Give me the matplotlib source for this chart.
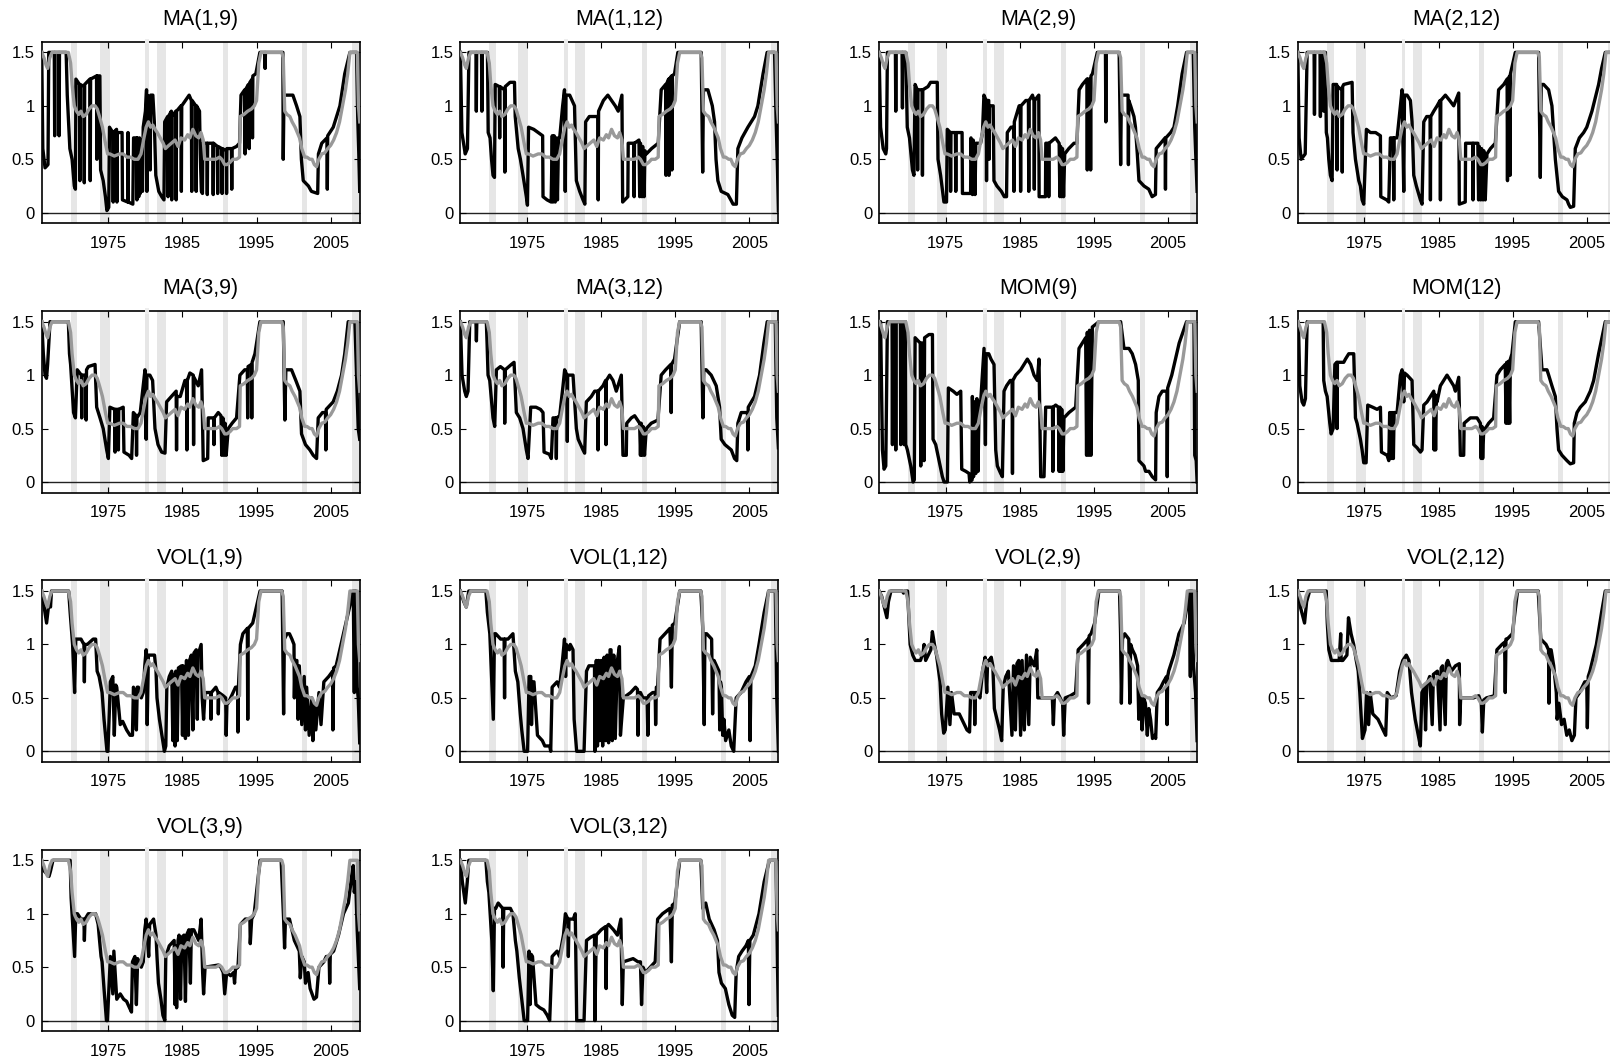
import matplotlib
matplotlib.use("Agg")
import matplotlib.pyplot as plt
from matplotlib.patches import Rectangle

plt.rcParams["font.family"] = ["Liberation Sans", "DejaVu Sans"]

# NBER recessions (start, end) in decimal years
recessions = [(1969.92, 1970.83), (1973.83, 1975.17), (1980.0, 1980.5),
              (1981.5, 1982.83), (1990.5, 1991.17), (2001.17, 2001.83),
              (2007.92, 2009.5)]

# grey benchmark line, same in every panel
gray = [(1966.00, 1.50), (1966.30, 1.45), (1966.60, 1.38), (1966.80, 1.35), (1967.10, 1.45), (1967.40, 1.50),
        (1969.60, 1.50), (1969.90, 1.40), (1970.10, 1.20), (1970.40, 1.00), (1970.70, 0.95), (1971.00, 0.92),
        (1971.30, 0.95), (1971.60, 0.90), (1972.00, 0.92), (1972.40, 0.97), (1972.80, 1.00), (1973.20, 1.00),
        (1973.50, 0.97), (1973.80, 0.90), (1974.20, 0.80), (1974.60, 0.65), (1974.90, 0.55), (1975.20, 0.55),
        (1975.80, 0.53), (1976.50, 0.55), (1977.00, 0.55), (1977.50, 0.52), (1978.00, 0.52), (1978.50, 0.50),
        (1979.00, 0.50), (1979.40, 0.55), (1979.80, 0.70), (1980.10, 0.80), (1980.40, 0.85), (1980.70, 0.80),
        (1981.00, 0.82), (1981.30, 0.78), (1981.60, 0.75), (1982.00, 0.70), (1982.40, 0.65), (1982.70, 0.60),
        (1983.00, 0.62), (1983.50, 0.65), (1984.00, 0.68), (1984.40, 0.62), (1984.80, 0.70), (1985.30, 0.68),
        (1985.70, 0.73), (1986.00, 0.70), (1986.40, 0.78), (1986.80, 0.72), (1987.20, 0.70), (1987.50, 0.75),
        (1987.80, 0.68), (1988.00, 0.50), (1988.50, 0.50), (1989.00, 0.50), (1989.50, 0.50), (1990.00, 0.52),
        (1990.30, 0.50), (1990.70, 0.45), (1991.00, 0.45), (1991.40, 0.47), (1991.80, 0.50), (1992.30, 0.50),
        (1992.70, 0.52), (1992.80, 0.90), (1993.30, 0.92), (1993.80, 0.95), (1994.30, 0.97), (1994.70, 1.00),
        (1995.00, 1.05), (1995.30, 1.40), (1995.60, 1.50), (1998.40, 1.50), (1998.60, 1.45), (1998.80, 0.95),
        (1999.10, 0.92), (1999.50, 0.90), (1999.80, 0.85), (2000.20, 0.80), (2000.50, 0.75), (2000.80, 0.70),
        (2001.10, 0.60), (2001.50, 0.52), (2001.80, 0.52), (2002.20, 0.50), (2002.50, 0.50), (2002.80, 0.45),
        (2003.10, 0.43), (2003.40, 0.50), (2003.80, 0.55), (2004.20, 0.56), (2004.60, 0.60), (2005.00, 0.63),
        (2005.40, 0.68), (2005.80, 0.75), (2006.20, 0.85), (2006.60, 1.00), (2007.00, 1.15), (2007.30, 1.30),
        (2007.60, 1.50), (2008.60, 1.50), (2008.75, 1.00), (2008.92, 0.85)]

ma_1_9 = [(1966.00, 1.50), (1966.15, 0.60), (1966.45, 0.42), (1966.85, 0.45), (1966.95, 1.50),
          (1967.70, 1.50), (1967.75, 0.72), (1967.80, 1.50), (1968.30, 1.50), (1968.35, 0.72), (1968.40, 1.50),
          (1969.30, 1.50), (1969.45, 1.10), (1969.80, 0.60), (1970.10, 0.50), (1970.40, 0.25), (1970.55, 0.22),
          (1970.62, 1.25), (1971.10, 1.20), (1971.15, 0.30), (1971.20, 1.20), (1971.70, 1.18), (1971.75, 0.28),
          (1971.80, 1.20), (1972.50, 1.25), (1972.55, 0.30), (1972.60, 1.25), (1973.40, 1.28), (1973.45, 0.50),
          (1973.50, 1.28), (1973.85, 1.28), (1973.95, 0.40), (1974.30, 0.30), (1974.60, 0.15), (1974.80, 0.02),
          (1975.05, 0.05), (1975.15, 0.80), (1975.60, 0.75), (1975.65, 0.10), (1975.70, 0.75), (1976.10, 0.78),
          (1976.15, 0.10), (1976.20, 0.75), (1976.85, 0.75), (1976.90, 0.12), (1977.60, 0.10), (1977.65, 0.75),
          (1977.70, 0.10), (1978.30, 0.08), (1978.40, 0.70), (1978.80, 0.70), (1978.85, 0.12), (1978.90, 0.70),
          (1979.10, 0.15), (1979.20, 0.70), (1979.30, 0.18), (1979.50, 0.65), (1979.60, 0.20), (1979.70, 0.80),
          (1980.00, 0.95), (1980.15, 1.15), (1980.20, 0.20), (1980.25, 1.10), (1980.60, 1.05), (1980.65, 0.40),
          (1980.70, 1.10), (1981.00, 1.10), (1981.20, 0.85), (1981.40, 0.35), (1981.80, 0.20), (1982.20, 0.15),
          (1982.50, 0.12), (1982.60, 0.85), (1983.00, 0.90), (1983.05, 0.15), (1983.10, 0.90), (1983.50, 0.95),
          (1983.55, 0.12), (1983.60, 0.90), (1984.10, 0.95), (1984.15, 0.12), (1984.20, 0.95), (1984.80, 1.00),
          (1984.85, 0.20), (1984.90, 1.00), (1985.40, 1.05), (1985.90, 1.10), (1986.20, 1.05), (1986.25, 0.20),
          (1986.30, 1.05), (1986.80, 1.00), (1986.85, 0.20), (1986.90, 1.00), (1987.30, 0.95), (1987.40, 0.55),
          (1987.55, 0.20), (1987.70, 0.18), (1987.75, 0.65), (1988.30, 0.65), (1988.35, 0.17), (1988.40, 0.65),
          (1989.10, 0.65), (1989.15, 0.17), (1989.20, 0.65), (1989.70, 0.62), (1989.75, 0.18), (1989.80, 0.62),
          (1990.30, 0.60), (1990.35, 0.18), (1990.40, 0.60), (1990.90, 0.58), (1990.95, 0.18), (1991.00, 0.60),
          (1991.60, 0.60), (1991.65, 0.22), (1991.70, 0.60), (1992.30, 0.62), (1992.70, 0.65), (1992.90, 1.10),
          (1993.40, 1.15), (1993.45, 0.55), (1993.50, 1.15), (1993.90, 1.20), (1994.00, 0.60), (1994.10, 1.22),
          (1994.40, 1.25), (1994.45, 0.70), (1994.50, 1.28), (1994.90, 1.30), (1995.45, 1.50), (1996.10, 1.50),
          (1996.15, 1.35), (1996.20, 1.50), (1998.55, 1.50), (1998.60, 0.50), (1998.70, 1.10), (1999.90, 1.10),
          (2000.40, 1.00), (2000.85, 0.90), (2001.05, 0.50), (2001.30, 0.30), (2002.00, 0.25), (2002.40, 0.20),
          (2003.25, 0.18), (2003.35, 0.55), (2003.80, 0.65), (2004.50, 0.70), (2004.55, 0.22), (2004.60, 0.72),
          (2005.35, 0.80), (2006.25, 1.00), (2006.90, 1.30), (2007.60, 1.50), (2008.50, 1.50), (2008.65, 0.90),
          (2008.80, 0.55), (2008.92, 0.20)]

ma_1_12 = [(1966.00, 1.50), (1966.20, 0.75), (1966.65, 0.55), (1966.95, 0.60), (1967.15, 1.50),
           (1968.10, 1.50), (1968.15, 0.95), (1968.20, 1.50), (1968.85, 1.50), (1968.90, 0.95), (1968.95, 1.50),
           (1969.65, 1.50), (1969.75, 0.75), (1970.00, 0.70), (1970.20, 0.50), (1970.40, 0.35), (1970.60, 0.33),
           (1970.70, 1.20), (1971.25, 1.18), (1971.30, 0.70), (1971.35, 1.18), (1971.95, 1.15), (1972.00, 0.38),
           (1972.05, 1.18), (1972.70, 1.22), (1973.30, 1.22), (1973.40, 0.90), (1973.80, 0.60), (1974.10, 0.50),
           (1974.45, 0.35), (1974.90, 0.15), (1975.05, 0.07), (1975.20, 0.80), (1975.90, 0.78), (1976.50, 0.75),
           (1977.10, 0.72), (1977.15, 0.15), (1977.70, 0.12), (1978.25, 0.10), (1978.40, 0.72), (1978.50, 0.10),
           (1978.65, 0.72), (1978.80, 0.10), (1978.95, 0.70), (1979.10, 0.12), (1979.25, 0.70), (1979.40, 0.70),
           (1979.80, 1.00), (1980.05, 1.15), (1980.15, 0.20), (1980.25, 1.10), (1980.75, 1.10), (1981.40, 1.00),
           (1981.65, 0.30), (1982.10, 0.20), (1982.55, 0.12), (1982.80, 0.08), (1982.90, 0.85), (1983.40, 0.90),
           (1984.20, 0.90), (1984.55, 0.90), (1984.60, 0.12), (1984.65, 0.95), (1985.30, 1.05), (1985.90, 1.10),
           (1986.40, 1.05), (1986.90, 1.00), (1987.30, 0.95), (1987.80, 1.10), (1987.90, 0.10), (1988.60, 0.15),
           (1988.65, 0.65), (1989.40, 0.65), (1989.45, 0.15), (1989.50, 0.65), (1990.10, 0.68), (1990.20, 0.15),
           (1990.30, 0.65), (1990.50, 0.15), (1990.60, 0.62), (1990.80, 0.15), (1990.90, 0.58), (1991.10, 0.55),
           (1991.80, 0.60), (1992.70, 0.65), (1993.10, 1.15), (1993.70, 1.20), (1993.75, 0.35), (1993.80, 1.20),
           (1994.10, 1.25), (1994.15, 0.35), (1994.20, 1.25), (1994.50, 1.28), (1994.55, 0.40), (1994.60, 1.28),
           (1994.90, 1.30), (1995.35, 1.50), (1998.50, 1.50), (1998.70, 0.38), (1998.80, 1.15), (1999.40, 1.15),
           (1999.60, 1.10), (2000.00, 1.00), (2000.30, 0.85), (2000.50, 0.50), (2000.75, 0.30), (2001.20, 0.20),
           (2002.10, 0.17), (2002.50, 0.12), (2002.80, 0.08), (2003.25, 0.08), (2003.45, 0.60), (2004.00, 0.70),
           (2004.40, 0.75), (2004.80, 0.80), (2005.70, 0.90), (2006.15, 1.00), (2006.85, 1.30), (2007.40, 1.50),
           (2008.40, 1.50), (2008.60, 0.90), (2008.80, 0.40), (2008.92, 0.02)]

ma_2_9 = [(1966.00, 1.50), (1966.20, 0.80), (1966.55, 0.60), (1966.90, 0.55), (1967.00, 0.60), (1967.12, 1.50),
          (1968.20, 1.50), (1968.25, 0.95), (1968.30, 1.50), (1969.10, 1.50), (1969.15, 0.98), (1969.20, 1.50),
          (1969.60, 1.50), (1969.80, 0.80), (1970.10, 0.70), (1970.50, 0.40), (1970.70, 0.35), (1970.86, 1.20),
          (1971.15, 1.15), (1971.20, 0.40), (1971.25, 1.15), (1971.80, 1.15), (1971.85, 0.35), (1971.90, 1.15),
          (1972.60, 1.18), (1972.95, 1.22), (1973.85, 1.22), (1973.95, 0.50), (1974.30, 0.35), (1974.75, 0.10),
          (1975.10, 0.10), (1975.20, 0.78), (1975.60, 0.75), (1975.65, 0.20), (1975.70, 0.75), (1976.30, 0.75),
          (1976.35, 0.20), (1976.40, 0.75), (1977.20, 0.75), (1977.25, 0.18), (1978.35, 0.18), (1978.40, 0.70),
          (1978.60, 0.17), (1978.70, 0.68), (1978.95, 0.17), (1979.05, 0.65), (1979.70, 0.65), (1979.95, 0.75),
          (1980.15, 1.10), (1980.45, 1.05), (1980.50, 0.30), (1980.55, 1.05), (1980.80, 1.05), (1980.85, 0.50),
          (1980.90, 1.00), (1981.40, 1.00), (1981.50, 0.30), (1981.90, 0.25), (1982.50, 0.20), (1982.90, 0.15),
          (1983.20, 0.15), (1983.30, 0.75), (1983.80, 0.80), (1984.15, 0.80), (1984.20, 0.20), (1984.25, 0.85),
          (1984.90, 1.00), (1985.05, 1.00), (1985.10, 0.20), (1985.15, 1.00), (1985.80, 1.05), (1986.15, 1.05),
          (1986.20, 0.20), (1986.25, 1.05), (1986.70, 1.10), (1986.90, 1.05), (1986.95, 0.22), (1987.00, 1.05),
          (1987.55, 1.10), (1987.60, 0.15), (1988.45, 0.15), (1988.50, 0.65), (1988.85, 0.65), (1988.90, 0.15),
          (1988.95, 0.65), (1989.80, 0.70), (1990.30, 0.65), (1990.40, 0.15), (1990.50, 0.62), (1990.65, 0.15),
          (1990.75, 0.60), (1990.90, 0.15), (1991.05, 0.55), (1991.60, 0.60), (1992.30, 0.65), (1992.70, 0.65),
          (1993.00, 1.15), (1993.45, 1.20), (1994.05, 1.25), (1994.10, 0.40), (1994.15, 1.25), (1994.50, 1.25),
          (1994.55, 0.40), (1994.60, 1.28), (1994.80, 1.30), (1995.45, 1.50), (1996.55, 1.50), (1996.60, 0.85),
          (1996.65, 1.50), (1998.40, 1.50), (1998.60, 0.45), (1998.70, 1.10), (1999.60, 1.10), (1999.65, 0.45),
          (1999.70, 1.05), (1999.95, 1.00), (2000.40, 0.90), (2000.60, 0.80), (2000.85, 0.55), (2001.07, 0.30),
          (2001.75, 0.25), (2002.40, 0.22), (2002.85, 0.15), (2003.30, 0.17), (2003.40, 0.60), (2004.00, 0.65),
          (2004.60, 0.70), (2004.65, 0.22), (2004.70, 0.70), (2005.35, 0.75), (2005.80, 0.80), (2006.30, 1.00),
          (2006.90, 1.30), (2007.50, 1.50), (2008.40, 1.50), (2008.60, 0.80), (2008.92, 0.20)]

ma_2_12 = [(1966.00, 1.50), (1966.18, 0.70), (1966.45, 0.50), (1967.00, 0.55), (1967.26, 1.50),
           (1968.20, 1.50), (1968.25, 0.92), (1968.30, 1.50), (1969.00, 1.50), (1969.05, 0.90), (1969.10, 1.50),
           (1969.45, 1.50), (1969.50, 0.95), (1969.55, 1.50), (1969.73, 1.50), (1969.85, 0.75), (1970.00, 0.70),
           (1970.18, 0.50), (1970.40, 0.35), (1970.63, 0.30), (1970.77, 1.20), (1971.25, 1.20), (1971.30, 0.40),
           (1971.35, 1.18), (1971.95, 1.15), (1972.00, 0.38), (1972.05, 1.18), (1972.20, 1.20), (1973.33, 1.22),
           (1973.45, 0.75), (1973.78, 0.50), (1974.23, 0.30), (1974.45, 0.25), (1974.68, 0.12), (1974.90, 0.08),
           (1975.26, 0.78), (1975.80, 0.75), (1976.50, 0.75), (1977.15, 0.72), (1977.20, 0.15), (1978.00, 0.12),
           (1978.28, 0.10), (1978.50, 0.70), (1978.90, 0.70), (1978.95, 0.12), (1979.00, 0.70), (1979.40, 0.70),
           (1979.85, 1.00), (1980.07, 1.15), (1980.30, 0.20), (1980.40, 1.10), (1980.75, 1.10), (1981.20, 1.05),
           (1981.42, 0.85), (1981.65, 0.35), (1982.00, 0.25), (1982.55, 0.12), (1982.77, 0.08), (1983.00, 0.85),
           (1983.40, 0.90), (1983.85, 0.90), (1983.90, 0.12), (1983.95, 0.90), (1984.35, 0.95), (1984.80, 1.00),
           (1985.20, 1.05), (1985.25, 0.12), (1985.30, 1.05), (1985.92, 1.10), (1986.50, 1.05), (1987.04, 1.00),
           (1987.72, 1.12), (1987.80, 0.08), (1988.60, 0.10), (1988.65, 0.65), (1989.60, 0.65), (1989.65, 0.12),
           (1989.70, 0.65), (1990.30, 0.65), (1990.40, 0.12), (1990.50, 0.62), (1990.70, 0.12), (1990.80, 0.60),
           (1991.00, 0.12), (1991.10, 0.58), (1991.30, 0.12), (1991.53, 0.55), (1992.00, 0.60), (1992.66, 0.65),
           (1993.10, 1.15), (1993.80, 1.20), (1994.25, 1.25), (1994.30, 0.30), (1994.35, 1.25), (1994.60, 1.28),
           (1994.65, 0.35), (1994.70, 1.30), (1995.36, 1.50), (1998.50, 1.50), (1998.73, 0.33), (1998.85, 1.20),
           (1999.18, 1.20), (1999.85, 1.15), (2000.30, 1.00), (2000.76, 0.50), (2001.20, 0.20), (2001.70, 0.15),
           (2002.33, 0.12), (2002.55, 0.08), (2002.78, 0.05), (2003.23, 0.06), (2003.45, 0.60), (2004.00, 0.70),
           (2004.58, 0.75), (2005.00, 0.80), (2005.70, 0.95), (2006.60, 1.20), (2007.00, 1.35), (2007.50, 1.50),
           (2008.40, 1.50), (2008.60, 0.60), (2008.92, 0.30)]

ma_3_9 = [(1966.00, 1.50), (1966.22, 1.20), (1966.45, 1.00), (1966.65, 0.97), (1966.80, 1.10), (1967.12, 1.50),
          (1969.60, 1.50), (1969.75, 1.20), (1969.90, 1.10), (1970.30, 0.65), (1970.55, 0.60), (1970.80, 1.05),
          (1971.35, 1.00), (1971.40, 0.60), (1971.45, 1.00), (1971.95, 1.00), (1972.00, 0.58), (1972.05, 1.05),
          (1972.30, 1.08), (1973.20, 1.10), (1973.42, 0.70), (1973.87, 0.60), (1974.30, 0.50), (1974.77, 0.30),
          (1975.00, 0.22), (1975.20, 0.70), (1975.85, 0.68), (1975.90, 0.28), (1975.95, 0.68), (1976.30, 0.68),
          (1976.35, 0.30), (1976.40, 0.68), (1977.00, 0.70), (1977.10, 0.28), (1977.80, 0.25), (1978.14, 0.22),
          (1978.37, 0.65), (1978.75, 0.62), (1978.80, 0.25), (1978.85, 0.60), (1979.30, 0.65), (1979.70, 0.90),
          (1979.94, 1.05), (1980.10, 0.40), (1980.20, 1.00), (1980.60, 1.00), (1980.97, 0.95), (1981.29, 0.50),
          (1981.70, 0.35), (1982.19, 0.28), (1982.64, 0.27), (1982.86, 0.75), (1983.50, 0.80), (1984.15, 0.85),
          (1984.20, 0.30), (1984.25, 0.80), (1984.70, 0.80), (1985.33, 0.95), (1985.55, 0.95), (1985.60, 0.30),
          (1985.65, 0.95), (1986.00, 1.02), (1986.45, 1.00), (1986.50, 0.35), (1986.55, 0.98), (1987.13, 0.90),
          (1987.58, 1.05), (1987.80, 0.20), (1988.40, 0.22), (1988.48, 0.60), (1989.20, 0.60), (1989.25, 0.35),
          (1989.30, 0.60), (1989.83, 0.65), (1990.20, 0.62), (1990.30, 0.25), (1990.45, 0.60), (1990.60, 0.25),
          (1990.75, 0.55), (1990.90, 0.25), (1991.18, 0.50), (1991.70, 0.55), (1992.30, 0.60), (1992.75, 1.00),
          (1993.40, 1.05), (1993.75, 1.05), (1993.80, 0.60), (1993.85, 1.08), (1994.30, 1.10), (1994.35, 0.60),
          (1994.40, 1.12), (1994.78, 1.20), (1995.45, 1.50), (1998.60, 1.50), (1998.82, 0.58), (1998.95, 1.05),
          (1999.72, 1.05), (2000.30, 0.95), (2000.85, 0.85), (2001.07, 0.45), (2001.60, 0.35), (2002.20, 0.30),
          (2002.65, 0.25), (2003.10, 0.22), (2003.32, 0.60), (2003.90, 0.65), (2004.30, 0.65), (2004.35, 0.30),
          (2004.40, 0.68), (2004.67, 0.70), (2005.34, 0.75), (2005.90, 0.85), (2006.47, 1.00), (2006.90, 1.20),
          (2007.37, 1.50), (2008.27, 1.50), (2008.72, 0.50), (2008.92, 0.40)]

ma_3_12 = [(1966.00, 1.50), (1966.22, 1.00), (1966.58, 0.85), (1966.80, 0.80), (1967.03, 0.85), (1967.26, 1.50),
           (1968.10, 1.50), (1968.16, 1.32), (1968.22, 1.50), (1969.50, 1.50), (1969.60, 1.30), (1969.73, 1.00),
           (1969.96, 0.95), (1970.40, 0.60), (1970.63, 0.52), (1970.86, 1.05), (1971.40, 1.08), (1971.95, 1.05),
           (1971.98, 0.55), (1972.05, 1.05), (1972.88, 1.10), (1973.24, 1.12), (1973.55, 0.65), (1974.00, 0.60),
           (1974.45, 0.50), (1974.90, 0.30), (1975.13, 0.22), (1975.49, 0.70), (1976.20, 0.70), (1976.80, 0.68),
           (1977.15, 0.65), (1977.29, 0.28), (1978.00, 0.26), (1978.27, 0.22), (1978.50, 0.60), (1978.90, 0.60),
           (1978.95, 0.22), (1979.00, 0.60), (1979.40, 0.62), (1979.85, 0.90), (1980.07, 1.05), (1980.38, 1.00),
           (1980.43, 0.38), (1980.48, 1.00), (1981.20, 1.00), (1981.65, 0.50), (1981.90, 0.40), (1982.55, 0.30),
           (1982.77, 0.27), (1983.00, 0.75), (1983.67, 0.80), (1984.12, 0.85), (1984.52, 0.85), (1984.57, 0.30),
           (1984.62, 0.85), (1985.24, 0.90), (1985.60, 0.95), (1985.65, 0.35), (1985.70, 0.95), (1986.14, 1.00),
           (1986.60, 0.95), (1987.04, 0.85), (1987.72, 1.00), (1987.94, 0.25), (1988.39, 0.25), (1988.45, 0.55),
           (1989.07, 0.60), (1989.52, 0.62), (1990.19, 0.55), (1990.30, 0.25), (1990.40, 0.55), (1990.55, 0.25),
           (1990.65, 0.52), (1990.85, 0.25), (1991.09, 0.50), (1991.76, 0.55), (1992.66, 0.58), (1993.10, 1.00),
           (1993.70, 1.05), (1994.40, 1.10), (1994.45, 0.65), (1994.50, 1.10), (1994.90, 1.15), (1995.59, 1.50),
           (1998.50, 1.50), (1998.73, 0.60), (1998.85, 1.05), (1999.18, 1.05), (1999.85, 1.00), (2000.53, 0.90),
           (2000.98, 0.70), (2001.20, 0.40), (2001.70, 0.35), (2002.56, 0.30), (2003.00, 0.22), (2003.30, 0.20),
           (2003.45, 0.55), (2003.90, 0.65), (2004.75, 0.65), (2004.80, 0.30), (2004.85, 0.70), (2005.70, 0.80),
           (2006.38, 1.00), (2006.96, 1.30), (2007.41, 1.50), (2008.50, 1.50), (2008.70, 0.60), (2008.92, 0.32)]

mom_9 = [(1966.00, 1.50), (1966.20, 1.50), (1966.45, 0.30), (1966.67, 0.12), (1966.90, 0.15), (1967.12, 1.50),
         (1967.75, 1.50), (1967.80, 0.35), (1967.85, 1.50), (1968.20, 1.50), (1968.25, 0.30), (1968.30, 1.50),
         (1968.87, 1.50), (1968.92, 0.35), (1968.97, 1.50), (1969.32, 1.50), (1969.37, 0.35), (1969.42, 1.50),
         (1969.55, 1.50), (1969.60, 0.35), (1969.82, 0.30), (1970.27, 0.15), (1970.59, 0.00), (1970.75, 0.02),
         (1970.86, 1.35), (1971.55, 1.30), (1971.62, 0.15), (1971.69, 1.30), (1972.00, 1.30), (1972.07, 0.20),
         (1972.14, 1.35), (1972.74, 1.38), (1973.20, 1.38), (1973.28, 0.40), (1973.64, 0.35), (1974.09, 0.20),
         (1974.54, 0.05), (1974.77, 0.00), (1975.22, 0.00), (1975.35, 0.88), (1976.00, 0.85), (1976.50, 0.82),
         (1977.02, 0.85), (1977.15, 0.12), (1977.70, 0.10), (1978.14, 0.08), (1978.23, 0.00), (1978.55, 0.02),
         (1978.59, 0.80), (1978.75, 0.05), (1978.90, 0.75), (1979.05, 0.08), (1979.20, 0.78), (1979.35, 0.10),
         (1979.50, 0.75), (1979.71, 0.75), (1979.94, 1.00), (1980.16, 1.25), (1980.35, 0.35), (1980.45, 1.20),
         (1980.80, 1.20), (1981.10, 1.15), (1981.51, 1.10), (1981.74, 0.30), (1981.96, 0.15), (1982.41, 0.08),
         (1982.64, 0.05), (1982.86, 0.85), (1983.20, 0.90), (1983.70, 0.95), (1983.95, 0.95), (1984.00, 0.08),
         (1984.05, 0.95), (1984.44, 1.00), (1985.11, 1.05), (1985.56, 1.10), (1986.01, 1.15), (1986.46, 1.10),
         (1986.91, 1.00), (1987.36, 0.95), (1987.58, 1.15), (1987.81, 0.05), (1988.26, 0.05), (1988.48, 0.70),
         (1989.40, 0.70), (1989.45, 0.10), (1989.50, 0.70), (1989.83, 0.72), (1990.20, 0.70), (1990.30, 0.10),
         (1990.40, 0.70), (1990.55, 0.10), (1990.65, 0.68), (1990.80, 0.10), (1990.95, 0.60), (1991.63, 0.65),
         (1992.53, 0.70), (1992.98, 1.25), (1993.43, 1.30), (1993.88, 1.35), (1994.00, 0.25), (1994.10, 1.40),
         (1994.30, 0.25), (1994.40, 1.42), (1994.60, 0.25), (1994.78, 1.45), (1995.68, 1.50), (1998.60, 1.50),
         (1999.05, 1.25), (1999.72, 1.25), (2000.17, 1.20), (2000.62, 1.10), (2000.98, 0.95), (2001.07, 0.20),
         (2001.75, 0.15), (2001.97, 0.10), (2002.42, 0.10), (2002.87, 0.05), (2003.32, 0.02), (2003.40, 0.65),
         (2003.77, 0.80), (2004.22, 0.85), (2004.85, 0.85), (2004.89, 0.05), (2004.95, 0.88), (2005.50, 1.00),
         (2006.50, 1.30), (2007.50, 1.50), (2008.50, 1.50), (2008.60, 0.25), (2008.80, 0.20), (2008.92, 0.00)]

mom_12 = [(1966.00, 1.50), (1966.10, 1.45), (1966.27, 0.90), (1966.58, 0.75), (1966.80, 0.72), (1967.03, 0.78),
          (1967.26, 1.50), (1969.42, 1.50), (1969.50, 0.95), (1969.73, 0.85), (1969.96, 0.80), (1970.32, 0.55),
          (1970.50, 0.45), (1970.77, 0.50), (1971.00, 1.10), (1971.25, 1.12), (1971.30, 0.50), (1971.35, 1.12),
          (1972.20, 1.12), (1972.43, 1.15), (1972.88, 1.20), (1973.55, 1.20), (1973.69, 0.85), (1973.78, 0.60),
          (1974.00, 0.55), (1974.45, 0.40), (1974.68, 0.30), (1974.90, 0.18), (1975.22, 0.18), (1975.44, 0.72),
          (1976.10, 0.70), (1976.70, 0.68), (1977.15, 0.70), (1977.29, 0.28), (1978.05, 0.25), (1978.28, 0.20),
          (1978.40, 0.65), (1978.50, 0.22), (1978.60, 0.65), (1978.70, 0.22), (1978.80, 0.65), (1978.90, 0.22),
          (1979.00, 0.65), (1979.40, 0.65), (1979.85, 1.00), (1980.07, 1.05), (1980.30, 0.75), (1980.40, 1.02),
          (1980.75, 1.00), (1981.42, 0.95), (1981.65, 0.35), (1982.10, 0.32), (1982.55, 0.28), (1982.77, 0.30),
          (1983.00, 0.72), (1983.45, 0.75), (1983.90, 0.80), (1984.35, 0.85), (1984.40, 0.30), (1984.50, 0.82),
          (1984.60, 0.30), (1984.70, 0.80), (1984.80, 0.75), (1985.24, 0.90), (1985.69, 0.95), (1986.14, 1.00),
          (1986.59, 0.95), (1987.04, 0.90), (1987.27, 0.85), (1987.72, 0.98), (1987.94, 0.25), (1988.39, 0.25),
          (1988.45, 0.55), (1989.29, 0.60), (1990.19, 0.60), (1990.64, 0.55), (1990.75, 0.22), (1990.85, 0.52),
          (1990.95, 0.22), (1991.10, 0.50), (1991.31, 0.50), (1991.76, 0.55), (1992.43, 0.60), (1992.88, 1.00),
          (1993.33, 1.05), (1994.00, 1.10), (1994.10, 0.55), (1994.20, 1.12), (1994.35, 0.55), (1994.45, 1.13),
          (1994.60, 0.55), (1994.69, 1.15), (1994.91, 1.20), (1995.36, 1.50), (1998.50, 1.50), (1998.96, 1.05),
          (1999.63, 1.05), (1999.86, 1.00), (2000.30, 0.90), (2000.76, 0.80), (2000.98, 0.50), (2001.20, 0.30),
          (2001.66, 0.25), (2002.33, 0.20), (2002.78, 0.17), (2003.23, 0.18), (2003.32, 0.55), (2003.68, 0.65),
          (2004.13, 0.70), (2004.80, 0.75), (2005.48, 0.85), (2005.93, 0.95), (2006.60, 1.20), (2007.05, 1.35),
          (2007.50, 1.50), (2008.50, 1.50), (2008.92, 0.50)]

vol_1_9 = [(1966.00, 1.50), (1966.33, 1.35), (1966.66, 1.20), (1966.99, 1.40), (1967.19, 1.35), (1967.32, 1.50),
           (1969.64, 1.50), (1969.84, 1.30), (1970.17, 1.00), (1970.44, 0.55), (1970.60, 1.05), (1970.83, 1.05),
           (1971.30, 1.05), (1971.70, 1.00), (1971.76, 0.65), (1971.82, 1.00), (1972.16, 1.00), (1972.95, 1.05),
           (1973.28, 1.05), (1973.48, 0.75), (1973.75, 0.70), (1974.15, 0.55), (1974.41, 0.30), (1974.81, 0.00),
           (1974.94, 0.00), (1975.27, 0.65), (1975.60, 0.70), (1975.80, 0.15), (1976.00, 0.62), (1976.13, 0.60),
           (1976.60, 0.25), (1976.93, 0.28), (1977.46, 0.20), (1977.92, 0.15), (1978.25, 0.15), (1978.38, 0.60),
           (1978.58, 0.55), (1978.78, 0.20), (1978.90, 0.60), (1979.05, 0.60), (1979.44, 0.50), (1979.71, 0.55),
           (1979.91, 0.80), (1980.10, 0.95), (1980.24, 0.25), (1980.40, 0.90), (1980.57, 0.90), (1981.23, 0.90),
           (1981.43, 0.75), (1981.56, 0.50), (1981.89, 0.30), (1982.23, 0.15), (1982.56, 0.00), (1982.75, 0.05),
           (1982.89, 0.60), (1983.22, 0.70), (1983.55, 0.75), (1983.70, 0.10), (1983.80, 0.72), (1984.00, 0.05),
           (1984.10, 0.75), (1984.30, 0.10), (1984.45, 0.78), (1984.87, 0.80), (1985.00, 0.15), (1985.10, 0.80),
           (1985.40, 0.12), (1985.54, 0.85), (1985.80, 0.15), (1985.95, 0.85), (1986.20, 0.90), (1986.40, 0.20),
           (1986.55, 0.92), (1986.86, 0.95), (1987.00, 0.30), (1987.10, 0.90), (1987.52, 1.00), (1987.66, 0.50),
           (1987.85, 0.30), (1988.05, 0.55), (1988.80, 0.55), (1988.85, 0.30), (1988.90, 0.55), (1989.51, 0.60),
           (1989.80, 0.55), (1989.84, 0.35), (1989.90, 0.55), (1990.50, 0.52), (1990.83, 0.50), (1990.90, 0.15),
           (1991.00, 0.45), (1991.17, 0.45), (1991.83, 0.55), (1992.16, 0.60), (1992.45, 0.60), (1992.49, 0.18),
           (1992.55, 0.60), (1992.82, 1.00), (1993.15, 1.10), (1993.75, 1.15), (1993.81, 0.30), (1993.87, 1.15),
           (1994.48, 1.20), (1995.47, 1.50), (1998.45, 1.50), (1998.65, 0.35), (1998.75, 1.05), (1999.11, 1.10),
           (1999.44, 1.10), (1999.77, 1.05), (2000.05, 1.00), (2000.10, 0.50), (2000.20, 0.85), (2000.44, 0.85),
           (2000.60, 0.30), (2000.77, 0.80), (2001.10, 0.25), (2001.43, 0.70), (2001.60, 0.20), (2001.76, 0.60),
           (2002.10, 0.15), (2002.42, 0.50), (2002.60, 0.10), (2002.75, 0.45), (2003.00, 0.20), (2003.42, 0.55),
           (2003.70, 0.25), (2004.08, 0.65), (2004.74, 0.70), (2005.27, 0.75), (2005.30, 0.20), (2005.40, 0.78),
           (2005.74, 0.80), (2006.40, 1.00), (2007.06, 1.20), (2007.72, 1.40), (2008.05, 1.50), (2008.19, 0.55),
           (2008.30, 1.50), (2008.38, 1.50), (2008.58, 0.60), (2008.72, 0.50), (2008.92, 0.08)]

vol_1_12 = [(1966.00, 1.50), (1966.46, 1.40), (1966.79, 1.35), (1967.13, 1.50), (1969.44, 1.50), (1969.64, 1.30),
            (1969.97, 1.10), (1970.44, 0.30), (1970.60, 1.10), (1970.77, 1.10), (1971.43, 1.05), (1971.90, 1.05),
            (1971.96, 0.50), (1972.02, 1.05), (1972.42, 1.05), (1973.09, 1.10), (1973.42, 0.75), (1973.75, 0.65),
            (1974.08, 0.35), (1974.28, 0.20), (1974.61, 0.00), (1975.07, 0.00), (1975.27, 0.70), (1975.50, 0.70),
            (1975.60, 0.25), (1975.75, 0.65), (1975.93, 0.65), (1976.40, 0.15), (1977.06, 0.10), (1977.39, 0.05),
            (1978.05, 0.05), (1978.19, 0.00), (1978.38, 0.60), (1979.05, 0.65), (1979.38, 0.60), (1979.71, 0.80),
            (1980.05, 1.05), (1980.20, 0.70), (1980.30, 1.00), (1980.71, 0.95), (1980.83, 1.00), (1981.20, 0.95),
            (1981.35, 0.30), (1981.69, 0.00), (1982.69, 0.00), (1983.02, 0.75), (1983.35, 0.80), (1984.10, 0.80),
            (1984.15, 0.00), (1984.34, 0.85), (1984.50, 0.05), (1984.65, 0.85), (1984.80, 0.10), (1985.00, 0.85),
            (1985.20, 0.05), (1985.40, 0.88), (1985.60, 0.10), (1985.80, 0.90), (1986.00, 0.08), (1986.20, 0.95),
            (1986.33, 0.95), (1986.50, 0.10), (1986.70, 0.90), (1986.90, 0.12), (1987.19, 0.85), (1987.46, 0.98),
            (1987.60, 0.15), (1987.99, 0.50), (1988.98, 0.55), (1989.64, 0.60), (1989.90, 0.58), (1989.97, 0.15),
            (1990.05, 0.55), (1990.30, 0.55), (1990.64, 0.50), (1991.20, 0.50), (1991.30, 0.15), (1991.40, 0.52),
            (1991.96, 0.55), (1992.29, 0.55), (1992.35, 0.25), (1992.45, 0.60), (1992.62, 0.60), (1992.95, 1.05),
            (1993.62, 1.10), (1994.28, 1.15), (1994.48, 0.60), (1994.60, 1.18), (1994.94, 1.20), (1995.60, 1.50),
            (1998.45, 1.50), (1998.71, 1.15), (1998.91, 0.25), (1999.00, 1.10), (1999.24, 1.10), (1999.91, 1.05),
            (2000.04, 0.35), (2000.15, 0.85), (2000.24, 0.85), (2000.90, 0.75), (2001.00, 0.20), (2001.10, 0.65),
            (2001.23, 0.60), (2001.40, 0.15), (2001.56, 0.30), (2001.80, 0.10), (2002.23, 0.20), (2002.56, 0.05),
            (2002.89, 0.00), (2003.22, 0.50), (2003.88, 0.55), (2004.54, 0.65), (2005.00, 0.70), (2005.10, 0.10),
            (2005.21, 0.70), (2005.80, 0.80), (2006.30, 1.00), (2007.00, 1.30), (2007.60, 1.50), (2008.50, 1.50),
            (2008.70, 0.50), (2008.92, 0.00)]

vol_2_9 = [(1966.00, 1.50), (1966.35, 1.45), (1966.70, 1.35), (1967.05, 1.25), (1967.26, 1.40), (1967.60, 1.50),
           (1969.14, 1.50), (1969.30, 1.48), (1969.49, 1.50), (1969.84, 1.50), (1970.05, 1.20), (1970.19, 1.00),
           (1970.54, 0.90), (1970.88, 0.85), (1971.58, 0.85), (1971.93, 0.92), (1972.07, 1.00), (1972.28, 0.85),
           (1972.63, 0.90), (1972.98, 0.95), (1973.19, 1.12), (1973.47, 1.00), (1973.75, 0.90), (1974.03, 0.75),
           (1974.23, 0.65), (1974.44, 0.35), (1974.72, 0.17), (1974.93, 0.20), (1975.28, 0.60), (1975.56, 0.25),
           (1975.77, 0.55), (1976.12, 0.35), (1976.82, 0.35), (1977.17, 0.30), (1977.51, 0.25), (1977.86, 0.20),
           (1978.21, 0.18), (1978.35, 0.55), (1978.85, 0.55), (1978.91, 0.25), (1979.00, 0.55), (1979.26, 0.55),
           (1979.61, 0.50), (1979.96, 0.75), (1980.31, 0.88), (1980.52, 0.55), (1980.65, 0.85), (1980.86, 0.85),
           (1981.14, 0.88), (1981.35, 0.80), (1981.56, 0.40), (1981.91, 0.30), (1982.26, 0.20), (1982.54, 0.10),
           (1982.75, 0.60), (1983.10, 0.70), (1983.45, 0.75), (1983.93, 0.15), (1984.14, 0.80), (1984.40, 0.20),
           (1984.60, 0.82), (1984.84, 0.85), (1985.10, 0.15), (1985.30, 0.85), (1985.60, 0.20), (1985.89, 0.90),
           (1986.20, 0.25), (1986.40, 0.88), (1986.59, 0.85), (1986.94, 0.80), (1987.28, 0.95), (1987.42, 0.50),
           (1989.38, 0.50), (1989.52, 0.25), (1989.65, 0.50), (1990.08, 0.55), (1990.42, 0.50), (1990.77, 0.45),
           (1990.91, 0.15), (1991.12, 0.50), (1991.82, 0.52), (1992.52, 0.55), (1992.87, 0.95), (1993.56, 1.00),
           (1994.20, 1.05), (1994.26, 0.45), (1994.35, 1.08), (1994.61, 1.10), (1995.10, 1.20), (1995.66, 1.50),
           (1998.45, 1.50), (1998.59, 1.10), (1998.70, 0.45), (1998.85, 1.05), (1999.15, 1.10), (1999.70, 1.05),
           (1999.84, 0.45), (1999.95, 1.00), (2000.19, 0.95), (2000.54, 0.90), (2000.89, 0.80), (2001.05, 0.30),
           (2001.24, 0.55), (2001.50, 0.20), (2001.70, 0.50), (2001.94, 0.45), (2002.20, 0.15), (2002.40, 0.40),
           (2002.64, 0.30), (2002.90, 0.12), (2003.20, 0.15), (2003.33, 0.12), (2003.54, 0.55), (2004.03, 0.60),
           (2004.38, 0.65), (2004.80, 0.70), (2004.87, 0.25), (2004.95, 0.70), (2005.08, 0.75), (2005.78, 0.90),
           (2006.47, 1.10), (2007.17, 1.20), (2007.87, 1.50), (2008.01, 0.70), (2008.10, 1.50), (2008.22, 1.50),
           (2008.43, 0.80), (2008.71, 0.55), (2008.92, 0.10)]

vol_2_12 = [(1966.00, 1.50), (1966.35, 1.35), (1966.91, 1.20), (1967.19, 1.40), (1967.60, 1.50), (1969.84, 1.50),
            (1969.98, 1.20), (1970.19, 0.95), (1970.54, 0.85), (1971.58, 0.85), (1971.79, 1.10), (1971.85, 0.85),
            (1972.07, 0.85), (1972.63, 0.90), (1972.84, 1.25), (1973.19, 1.10), (1973.54, 1.00), (1973.89, 0.85),
            (1974.16, 0.75), (1974.37, 0.55), (1974.72, 0.12), (1975.07, 0.20), (1975.28, 0.55), (1975.56, 0.25),
            (1975.77, 0.55), (1976.12, 0.35), (1976.82, 0.30), (1977.17, 0.25), (1977.51, 0.20), (1977.86, 0.15),
            (1978.07, 0.55), (1978.56, 0.50), (1979.26, 0.52), (1979.75, 0.75), (1980.17, 0.85), (1980.65, 0.90),
            (1981.00, 0.85), (1981.35, 0.55), (1981.84, 0.30), (1982.26, 0.15), (1982.54, 0.05), (1982.75, 0.55),
            (1983.10, 0.60), (1983.24, 0.20), (1983.40, 0.62), (1983.80, 0.70), (1984.14, 0.25), (1984.30, 0.72),
            (1984.84, 0.75), (1985.20, 0.20), (1985.35, 0.78), (1985.54, 0.80), (1985.90, 0.25), (1986.05, 0.82),
            (1986.24, 0.85), (1986.73, 0.75), (1987.28, 0.80), (1987.80, 0.82), (1987.84, 0.25), (1987.98, 0.50),
            (1989.73, 0.50), (1990.42, 0.52), (1990.77, 0.45), (1990.91, 0.18), (1991.10, 0.48), (1991.47, 0.50),
            (1992.52, 0.52), (1992.87, 0.95), (1993.56, 1.00), (1993.91, 1.02), (1994.00, 0.55), (1994.10, 1.05),
            (1994.26, 1.05), (1994.96, 1.10), (1995.66, 1.50), (1998.45, 1.50), (1998.80, 1.05), (1999.50, 1.00),
            (1999.84, 0.95), (1999.90, 0.45), (2000.00, 0.95), (2000.19, 0.95), (2000.54, 0.80), (2000.89, 0.55),
            (2001.00, 0.30), (2001.24, 0.45), (2001.60, 0.25), (2001.94, 0.30), (2002.30, 0.15), (2002.64, 0.20),
            (2002.99, 0.10), (2003.33, 0.15), (2003.54, 0.50), (2004.03, 0.55), (2004.73, 0.65), (2005.00, 0.65),
            (2005.08, 0.22), (2005.20, 0.70), (2005.43, 0.75), (2006.30, 1.00), (2007.00, 1.30), (2007.50, 1.50),
            (2008.50, 1.50), (2008.92, 0.50)]

vol_3_9 = [(1966.00, 1.50), (1966.33, 1.40), (1966.99, 1.35), (1967.19, 1.40), (1967.52, 1.50), (1969.84, 1.50),
           (1969.97, 1.15), (1970.44, 0.60), (1970.60, 1.00), (1970.83, 1.00), (1971.30, 0.95), (1971.70, 0.95),
           (1971.76, 0.75), (1971.85, 0.95), (1972.29, 1.00), (1973.28, 1.00), (1973.62, 0.90), (1973.81, 0.75),
           (1974.01, 0.60), (1974.15, 0.55), (1974.41, 0.30), (1974.74, 0.00), (1974.87, 0.00), (1975.27, 0.60),
           (1975.60, 0.25), (1975.74, 0.65), (1976.13, 0.20), (1976.60, 0.25), (1977.06, 0.20), (1977.46, 0.18),
           (1977.85, 0.12), (1978.12, 0.08), (1978.25, 0.55), (1978.58, 0.60), (1978.78, 0.15), (1978.95, 0.58),
           (1979.11, 0.55), (1979.44, 0.50), (1979.71, 0.55), (1979.91, 0.85), (1980.10, 0.95), (1980.44, 0.60),
           (1980.57, 0.90), (1981.10, 0.95), (1981.43, 0.80), (1981.56, 0.60), (1981.76, 0.35), (1982.09, 0.20),
           (1982.36, 0.05), (1982.62, 0.00), (1982.75, 0.60), (1983.22, 0.70), (1983.88, 0.75), (1984.00, 0.15),
           (1984.10, 0.70), (1984.21, 0.12), (1984.40, 0.75), (1984.54, 0.80), (1984.74, 0.20), (1984.90, 0.78),
           (1985.21, 0.80), (1985.40, 0.18), (1985.55, 0.80), (1985.87, 0.85), (1986.07, 0.35), (1986.20, 0.85),
           (1986.53, 0.85), (1987.19, 0.75), (1987.52, 0.95), (1987.72, 0.45), (1987.85, 0.25), (1988.05, 0.50),
           (1989.84, 0.52), (1990.17, 0.50), (1990.50, 0.45), (1990.70, 0.25), (1990.97, 0.45), (1991.50, 0.42),
           (1991.90, 0.45), (1992.03, 0.35), (1992.15, 0.48), (1992.49, 0.50), (1992.82, 0.90), (1993.48, 0.95),
           (1994.10, 0.95), (1994.15, 0.72), (1994.34, 0.95), (1994.68, 1.00), (1995.47, 1.50), (1998.32, 1.50),
           (1998.65, 0.95), (1998.78, 0.68), (1998.90, 0.95), (1999.44, 0.95), (1999.77, 0.85), (2000.10, 0.75),
           (2000.44, 0.70), (2000.77, 0.65), (2000.90, 0.40), (2001.10, 0.60), (2001.43, 0.55), (2001.60, 0.35),
           (2001.96, 0.45), (2002.23, 0.30), (2002.75, 0.20), (2003.09, 0.22), (2003.42, 0.50), (2004.08, 0.55),
           (2004.41, 0.60), (2004.80, 0.60), (2004.87, 0.35), (2004.95, 0.62), (2005.40, 0.65), (2006.06, 0.80),
           (2006.73, 1.00), (2007.39, 1.10), (2007.92, 1.40), (2008.05, 1.45), (2008.19, 1.20), (2008.38, 1.30),
           (2008.58, 0.85), (2008.92, 0.30)]

vol_3_12 = [(1966.00, 1.50), (1966.26, 1.30), (1966.66, 1.10), (1966.93, 1.30), (1967.13, 1.50), (1969.44, 1.50),
            (1969.64, 1.30), (1969.84, 1.20), (1970.24, 0.75), (1970.44, 0.28), (1970.60, 1.05), (1970.77, 1.05),
            (1971.10, 1.10), (1971.70, 1.05), (1971.76, 0.50), (1971.85, 1.05), (1972.09, 1.05), (1972.75, 1.05),
            (1973.09, 1.00), (1973.42, 0.75), (1973.62, 0.65), (1973.95, 0.40), (1974.28, 0.20), (1974.61, 0.00),
            (1975.07, 0.00), (1975.27, 0.65), (1975.40, 0.15), (1975.55, 0.62), (1975.73, 0.60), (1976.20, 0.15),
            (1976.73, 0.12), (1977.26, 0.10), (1977.72, 0.05), (1978.05, 0.00), (1978.38, 0.60), (1979.05, 0.65),
            (1979.38, 0.60), (1979.91, 0.80), (1980.17, 1.00), (1980.50, 0.95), (1980.57, 0.60), (1980.65, 0.95),
            (1981.23, 0.95), (1981.50, 1.00), (1981.70, 0.00), (1982.69, 0.00), (1983.02, 0.75), (1983.60, 0.78),
            (1984.10, 0.80), (1984.15, 0.00), (1984.34, 0.80), (1985.00, 0.85), (1985.60, 0.88), (1985.67, 0.30),
            (1985.75, 0.88), (1986.00, 0.90), (1986.66, 0.85), (1987.19, 0.80), (1987.66, 0.95), (1987.85, 0.15),
            (1987.99, 0.55), (1989.31, 0.58), (1989.97, 0.55), (1990.30, 0.55), (1990.45, 0.15), (1990.64, 0.50),
            (1990.97, 0.45), (1991.63, 0.50), (1992.29, 0.55), (1992.62, 0.95), (1993.28, 1.00), (1994.28, 1.05),
            (1994.48, 0.55), (1994.60, 1.08), (1994.94, 1.10), (1995.60, 1.50), (1998.45, 1.50), (1998.71, 1.05),
            (1999.11, 1.10), (1999.58, 0.95), (2000.24, 0.85), (2000.70, 0.75), (2000.90, 0.45), (2001.23, 0.35),
            (2001.76, 0.30), (2002.23, 0.15), (2002.69, 0.05), (2003.02, 0.03), (2003.22, 0.45), (2003.56, 0.60),
            (2004.01, 0.65), (2004.54, 0.70), (2004.87, 0.75), (2004.95, 0.15), (2005.07, 0.75), (2005.53, 0.80),
            (2006.30, 1.00), (2007.00, 1.30), (2007.70, 1.50), (2008.60, 1.50), (2008.80, 0.50), (2008.92, 0.05)]

titles = ["MA(1,9)", "MA(1,12)", "MA(2,9)", "MA(2,12)",
          "MA(3,9)", "MA(3,12)", "MOM(9)", "MOM(12)",
          "VOL(1,9)", "VOL(1,12)", "VOL(2,9)", "VOL(2,12)",
          "VOL(3,9)", "VOL(3,12)"]
series = [ma_1_9, ma_1_12, ma_2_9, ma_2_12,
          ma_3_9, ma_3_12, mom_9, mom_12,
          vol_1_9, vol_1_12, vol_2_9, vol_2_12,
          vol_3_9, vol_3_12]

W, H = 1610, 1060
fig = plt.figure(figsize=(W / 100, H / 100), dpi=100)

gt, gv = zip(*gray)
for i, (title, black) in enumerate(zip(titles, series)):
    r, c = divmod(i, 4)
    left = 41.7 + 418.7 * c
    top = 41.7 + 269.3 * r
    ax = fig.add_axes([left / W, 1 - (top + 181.7) / H, 318 / W, 181.7 / H])

    for a, b in recessions:
        ax.axvspan(a, b, color="#e6e6e6", lw=0, zorder=0)
    # the 1980 band overprints the top border in the original
    ax.add_patch(Rectangle((1980.0, 0.985), 0.5, 0.03, transform=ax.get_xaxis_transform(),
                           color="#eeeeee", lw=0, zorder=5, clip_on=False))
    ax.axhline(0, color="#222222", lw=1.0, zorder=1)

    bt, bv = zip(*black)
    ax.plot(bt, bv, color="black", lw=2.4, zorder=2)
    ax.plot(gt, gv, color="#999999", lw=2.4, zorder=3)

    ax.set_xlim(1966.0, 2008.92)
    ax.set_ylim(-0.1, 1.6)
    ax.set_xticks([1975, 1985, 1995, 2005])
    ax.set_yticks([0, 0.5, 1, 1.5])
    ax.set_yticklabels(["0", "0.5", "1", "1.5"])
    ax.tick_params(direction="in", top=True, right=True, length=4, width=0.8, labelsize=12)
    ax.tick_params(axis="x", pad=9)
    ax.tick_params(axis="y", pad=5)
    for s in ax.spines.values():
        s.set_linewidth(1.2)
    ax.set_title(title, fontsize=15.5, pad=12)

fig.savefig("out.png", dpi=100)
